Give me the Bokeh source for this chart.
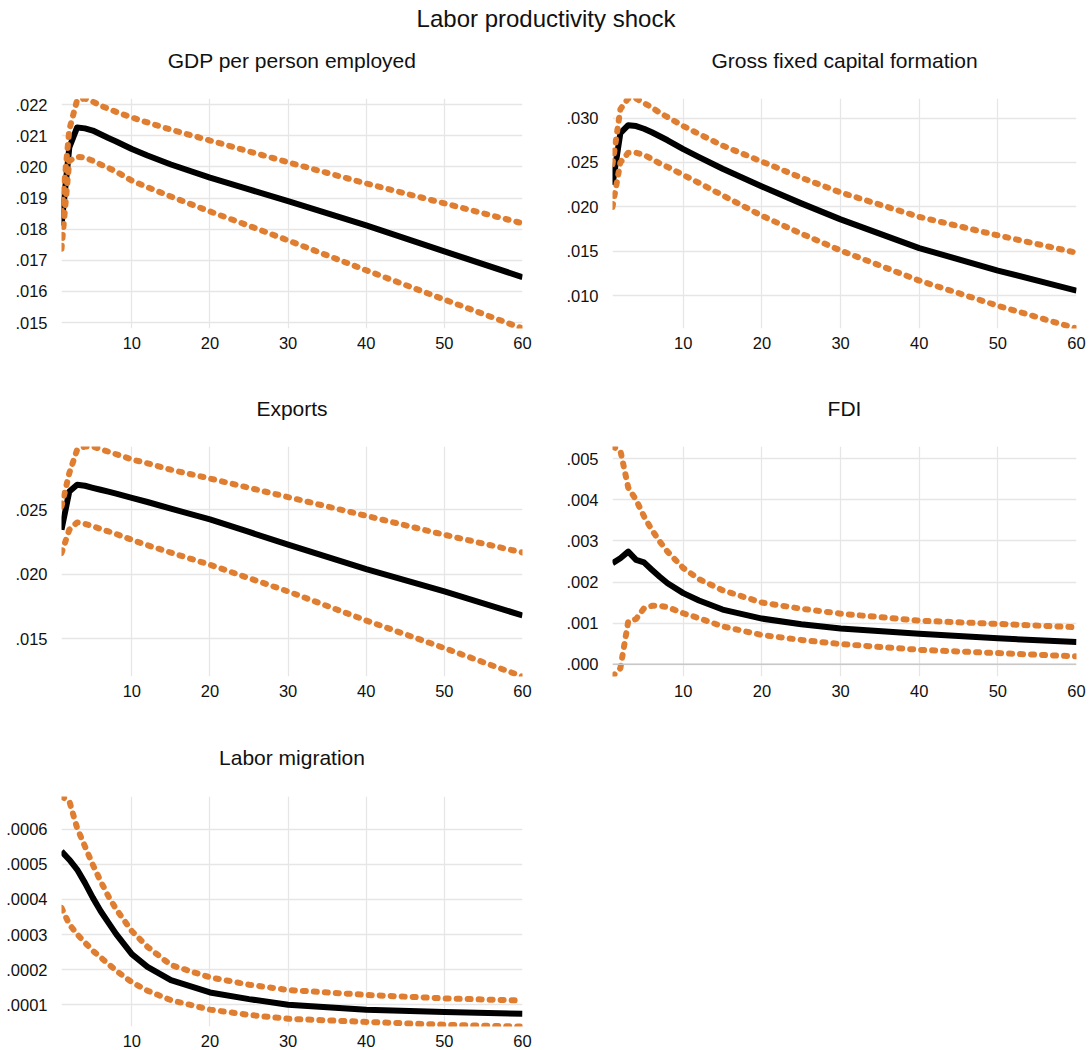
from bokeh.plotting import figure
from bokeh.layouts import column, row
from bokeh.models import Range1d, FixedTicker, CustomJSTickFormatter, Span
from bokeh.core.properties import value
from bokeh.embed import file_html
from bokeh.resources import INLINE

FONT = "Liberation Sans"
ORANGE = "#DF7E31"
GRID = "#e6e6e6"

# Impulse-response horizon (steps after the shock)
horizon = [1, 2, 3, 4, 5, 6, 7, 8, 10, 12, 15, 20, 25, 30, 40, 50, 60]
x_ticks = [10, 20, 30, 40, 50, 60]

main_title = "Labor productivity shock"

# GDP per person employed
gdp_irf = [.01812, .02063, .02127, .02124, .02117, .02105, .02093, .02082, .02058,
           .02037, .02008, .01966, .01928, .01890, .01812, .01729, .01646]
gdp_hi = [.0185, .0212, .02215, .0222, .0221, .02197, .02187, .02177, .02159,
          .02143, .02120, .02085, .02050, .02015, .01947, .01883, .01819]
gdp_lo = [.01737, .0202, .02033, .0203, .0202, .02008, .01997, .01985, .01956,
          .01935, .01905, .01857, .01811, .01764, .01668, .01574, .01481]
gdp_ticks = [.015, .016, .017, .018, .019, .020, .021, .022]

# Gross fixed capital formation
gfcf_irf = [.0225, .0283, .0292, .0291, .0288, .0284, .02795, .0275, .0265,
            .0256, .0243, .0223, .0204, .0186, .01537, .01284, .01058]
gfcf_hi = [.0248, .0310, .0322, .0322, .0317, .0312, .0306, .0301, .0291,
           .0282, .0269, .0251, .02329, .02163, .01888, .0168, .01484]
gfcf_lo = [.0200, .0250, .0261, .0261, .02585, .0254, .0249, .0245, .0236,
           .0227, .0213, .0190, .0170, .0151, .01171, .00888, .00632]
gfcf_ticks = [.010, .015, .020, .025, .030]

# Exports
exp_irf = [.02345, .02642, .02694, .02686, .0267, .02655, .0264, .02625, .02592,
           .0256, .02508, .02425, .02328, .02229, .0204, .01867, .01681]
exp_hi = [.02526, .02784, .02965, .0299, .0299, .0297, .0295, .0293, .0289,
          .0286, .0281, .02742, .0267, .02598, .02453, .02306, .02169]
exp_lo = [.02164, .02345, .02402, .02391, .02372, .02352, .02332, .02312, .02267,
          .02225, .02168, .02074, .0197, .01867, .01642, .01428, .01208]
exp_ticks = [.015, .020, .025]

# FDI
fdi_irf = [.00246, .00258, .00274, .00254, .00248, .0023, .00213, .00197, .00173,
           .00155, .00133, .00111, .00097, .00087, .00074, .00063, .00054]
fdi_hi = [.0053, .0052, .0043, .0040, .0036, .00327, .00299, .00274, .00234,
          .00207, .0018, .0015, .00135, .00123, .00106, .00098, .0009]
fdi_lo = [-.0003, -.0001, .00104, .0011, .00136, .00142, .00142, .00139, .00124,
          .00112, .00092, .00071, .00059, .00049, .00035, .00027, .00019]
fdi_ticks = [.000, .001, .002, .003, .004, .005]

# Labor migration
mig_irf = [.000537, .000513, .000485, .000447, .000405, .000367, .000334, .000301,
           .000244, .000208, .000170, .000135, .000116, .0001, .000086, .000079, .000074]
mig_hi = [.000693, .000680, .000603, .000551, .000499, .000452, .000409, .000372,
          .00031, .000265, .000213, .000178, .000157, .000142, .000128, .000118, .000112]
mig_lo = [.000376, .000329, .000301, .000277, .000254, .000235, .000216, .000197,
          .000164, .00014, .000113, .000086, .000071, .00006, .000051, .000043, .000038]
mig_ticks = [.0001, .0002, .0003, .0004, .0005, .0006]

LEFT = dict(frame_width=461, min_border_left=61, min_border_right=23)
RIGHT = dict(frame_width=464, min_border_left=67, min_border_right=14)


def caption(text, height, size, geom):
    """A thin strip holding a centred heading above a panel (or the page)."""
    c = figure(frame_height=height, x_range=Range1d(0, 1), y_range=Range1d(0, 1),
               output_backend="svg", toolbar_location=None,
               min_border_top=0, min_border_bottom=0,
               outline_line_color=None, border_fill_color="white", **geom)
    c.axis.visible = False
    c.grid.visible = False
    c.text(x=[0.5], y=[0.5], text=[text], text_align="center",
           text_baseline="middle", text_font=value(FONT), text_font_size=size,
           text_color="#111111")
    return c


def panel(irf, lo, hi, ticks, digits, geom, border_top, border_bottom,
          zero_line=False):
    values = irf + lo + hi
    p = figure(
        frame_height=230,
        x_range=Range1d(1, 60),
        y_range=Range1d(min(values), max(values)),
        output_backend="svg",
        toolbar_location=None,
        min_border_top=border_top,
        min_border_bottom=border_bottom,
        outline_line_color=None,
        background_fill_color="white",
        border_fill_color="white",
        **geom,
    )
    p.xaxis.ticker = FixedTicker(ticks=x_ticks)
    p.yaxis.ticker = FixedTicker(ticks=ticks)
    p.yaxis.formatter = CustomJSTickFormatter(
        args=dict(d=digits),
        code="return tick.toFixed(d).replace(/^0\\./, '.').replace(/^-0\\./, '-.');",
    )
    for ax in (p.xaxis, p.yaxis):
        ax.axis_line_color = None
        ax.major_tick_line_color = None
        ax.minor_tick_line_color = None
        ax.major_label_text_font = FONT
        ax.major_label_text_font_size = "16.5px"
        ax.major_label_text_color = "#111111"
    p.xaxis.major_label_standoff = 2
    p.yaxis.major_label_standoff = 8

    p.xgrid.grid_line_color = GRID
    p.ygrid.grid_line_color = GRID
    p.xgrid.grid_line_width = 1.3
    p.ygrid.grid_line_width = 1.3

    if zero_line:
        p.add_layout(Span(location=0, dimension="width", line_color="#c8c8c8",
                          line_width=1.5))

    p.line(horizon, irf, line_color="black", line_width=6, line_join="round")
    for band in (hi, lo):
        p.line(horizon, band, line_color=ORANGE, line_width=6, line_dash="3 8",
               line_cap="round", line_join="round")
    return p


head = caption(main_title, 36, "24px",
               dict(frame_width=1091, min_border_left=0, min_border_right=0))

p1 = panel(gdp_irf, gdp_lo, gdp_hi, gdp_ticks, 3, LEFT, 14, 56)
p2 = panel(gfcf_irf, gfcf_lo, gfcf_hi, gfcf_ticks, 3, RIGHT, 14, 56)
p3 = panel(exp_irf, exp_lo, exp_hi, exp_ticks, 3, LEFT, 14, 57)
p4 = panel(fdi_irf, fdi_lo, fdi_hi, fdi_ticks, 3, RIGHT, 14, 57, zero_line=True)
p5 = panel(mig_irf, mig_lo, mig_hi, mig_ticks, 4, LEFT, 15, 20)

t1 = caption("GDP per person employed", 48, "21px", LEFT)
t2 = caption("Gross fixed capital formation", 48, "21px", RIGHT)
t3 = caption("Exports", 48, "21px", LEFT)
t4 = caption("FDI", 48, "21px", RIGHT)
t5 = caption("Labor migration", 48, "21px", LEFT)

layout = column(
    head,
    row(column(t1, p1), column(t2, p2)),
    row(column(t3, p3), column(t4, p4)),
    row(column(t5, p5)),
)

open("out.html", "w").write(file_html(layout, INLINE))
